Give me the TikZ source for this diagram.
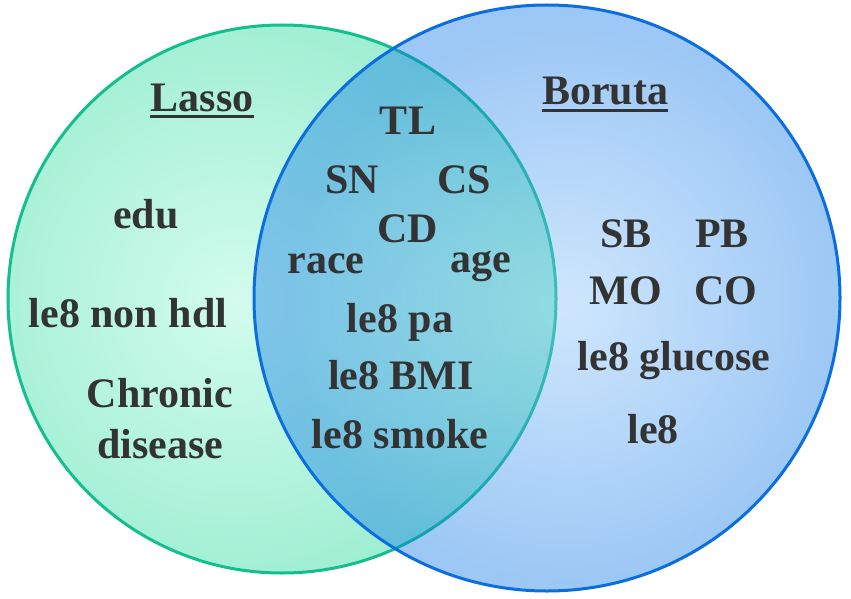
\documentclass[tikz,border=0pt]{standalone}
\usepackage{fontspec}
\setmainfont{Liberation Serif}
\definecolor{mintedge}{HTML}{9EEED2}
\definecolor{mintlight}{HTML}{D2FCEE}
\definecolor{greenline}{HTML}{14BF8E}
\definecolor{blueedge}{HTML}{0A75E6}
\definecolor{bluelight}{HTML}{85C2FA}
\definecolor{blueline}{HTML}{0A6EE0}
\definecolor{txt}{HTML}{333333}
\pgfdeclareradialshading{lshade}{\pgfpoint{0bp}{0bp}}{color(0bp)=(mintlight); color(12.5bp)=(mintedge); color(50bp)=(mintedge)}
\pgfdeclareradialshading{rshade}{\pgfpoint{0bp}{0bp}}{color(0bp)=(bluelight); color(11.5bp)=(blueedge); color(50bp)=(blueedge)}
\begin{document}
\begin{tikzpicture}[x=1pt,y=-1pt,
  lab/.style={font=\fontsize{42}{48}\selectfont\bfseries, text=txt, inner sep=0pt, anchor=base},
  uline/.style={draw=txt, line width=3pt}]
\useasboundingbox (0,0) rectangle (851,599);
% left circle (Lasso)
\coordinate (lc) at (282,299);
\coordinate (rc) at (547,298);
\begin{scope}
  \clip (lc) circle[radius=274pt];
  \shade[shading=lshade] (235,300) circle[radius=600pt];
\end{scope}
\draw[greenline, line width=3pt] (lc) circle[radius=274pt];
% right circle (Boruta), translucent
\begin{scope}[fill opacity=0.4]
  \clip (rc) circle[radius=293pt];
  \shade[shading=rshade] (565,305) circle[radius=600pt];
\end{scope}
\draw[blueline, line width=3pt] (rc) circle[radius=293pt];
% titles
\node[lab] (lasso) at (202,112) {Lasso};
\draw[uline] ([yshift=-5pt]lasso.base west) -- ([yshift=-5pt]lasso.base east);
\node[lab] (boruta) at (605,105) {Boruta};
\draw[uline] ([yshift=-6pt]boruta.base west) -- ([yshift=-6pt]boruta.base east);
% Lasso only
\node[lab] (edu) at (146,228) {edu};
\node[lab] (nonhdl) at (128,327) {le8 non hdl};
\node[lab] (chronic) at (160,407) {Chronic};
\node[lab] (disease) at (160,458) {disease};
% both
\node[lab] (tl) at (408,135) {TL};
\node[lab] (sn) at (352,193) {SN};
\node[lab] (cs) at (464,193) {CS};
\node[lab] (cd) at (408,242) {CD};
\node[lab] (race) at (326,273) {race};
\node[lab] (age) at (481,272) {age};
\node[lab] (pa) at (400,332) {le8 pa};
\node[lab] (bmi) at (401,389) {le8 BMI};
\node[lab] (smoke) at (400,448) {le8 smoke};
% Boruta only
\node[lab] (sb) at (626,247) {SB};
\node[lab] (pb) at (722,247) {PB};
\node[lab] (mo) at (626,304) {MO};
\node[lab] (co) at (726,304) {CO};
\node[lab] (glucose) at (674,370) {le8 glucose};
\node[lab] (le8) at (653,443) {le8};
\end{tikzpicture}
\end{document}
